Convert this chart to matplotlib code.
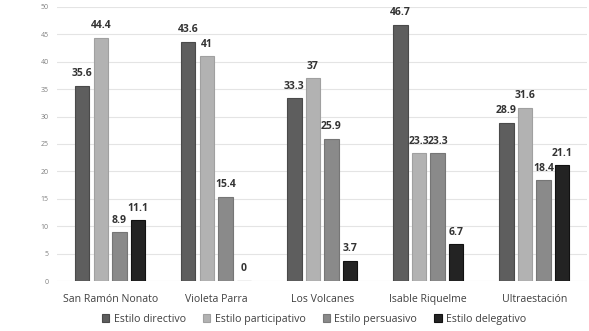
import numpy as np
import matplotlib
matplotlib.use("Agg")
import matplotlib.pyplot as plt

plt.rcParams['font.family'] = ['Open Sans', 'DejaVu Sans']

escuelas = ["San Ramón Nonato", "Violeta Parra", "Los Volcanes", "Isable Riquelme", "Ultraestación"]
series = ["Estilo directivo", "Estilo participativo", "Estilo persuasivo", "Estilo delegativo"]
directivo = [35.6, 43.6, 33.3, 46.7, 28.9]
participativo = [44.4, 41, 37, 23.3, 31.6]
persuasivo = [8.9, 15.4, 25.9, 23.3, 18.4]
delegativo = [11.1, 0, 3.7, 6.7, 21.1]
colores = ["#5e5e5e", "#b2b2b2", "#8a8a8a", "#232323"]
bordes = ["#4a4a4a", "#a0a0a0", "#767676", "#111111"]

fig = plt.figure(figsize=(5.89, 3.31), dpi=100)
ax = fig.add_axes([0.097, 0.151, 0.9, 0.828])

x = np.arange(len(escuelas))
ancho = 0.135
paso = 0.175
datos = [directivo, participativo, persuasivo, delegativo]
for i, vals in enumerate(datos):
    pos = x + (i - 1.5) * paso
    bars = ax.bar(pos, vals, ancho, color=colores[i], edgecolor=bordes[i],
                  linewidth=0.8, label=series[i], zorder=3)
    for b, v in zip(bars, vals):
        txt = f"{v:g}"
        ax.text(b.get_x() + b.get_width() / 2, v + 1.2, txt, ha="center", va="bottom",
                fontsize=7.5, fontweight="bold", color="#333333")

ax.set_xlim(-0.5, 4.5)
ax.set_ylim(0, 50)
ax.set_yticks(range(0, 51, 5))
ax.set_xticks(x)
ax.set_xticklabels(escuelas, fontsize=7.6, color="#404040")
ax.tick_params(axis="y", labelsize=5, colors="#808080", length=0, pad=6)
ax.tick_params(axis="x", length=0, pad=9)
ax.grid(axis="y", color="#e4e4e4", linewidth=0.8, zorder=0)
for s in ax.spines.values():
    s.set_visible(False)

ax.legend(loc="upper center", bbox_to_anchor=(0.485, -0.085), ncol=4, frameon=False,
          fontsize=7.7, handlelength=0.7, handleheight=0.7, handletextpad=0.4,
          columnspacing=1.6, labelcolor="#404040")

fig.savefig("out.png", dpi=100)
